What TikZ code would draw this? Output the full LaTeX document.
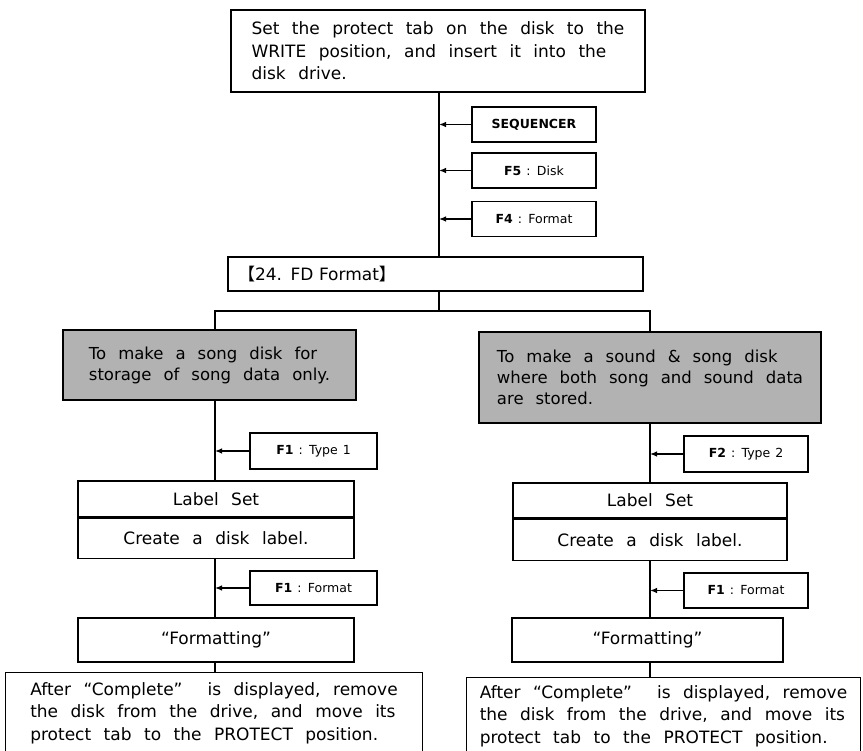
\documentclass[tikz,border=0pt]{standalone}
\usepackage{fontspec}
\setmainfont{DejaVu Sans}
\newfontfamily\cjkfont{Noto Sans CJK JP}
\usepackage{tikz}
\usetikzlibrary{arrows.meta, positioning, calc}
\definecolor{shadegray}{RGB}{178, 178, 178}

\newcommand{\flowtext}{\fontsize{17}{22.5}\selectfont\spaceskip=12.5pt\relax}
\newcommand{\choicetext}{\fontsize{16.5}{21}\selectfont\spaceskip=12pt\relax}
\newcommand{\keytext}{\fontsize{12.5}{15}\selectfont\spaceskip=5pt\relax}

\tikzset{
  textbox/.style={draw, line width=1.2pt, font=\flowtext, inner xsep=10pt, inner ysep=0pt},
  keybox/.style={draw, line width=1.4pt, minimum width=124pt, minimum height=35pt, font=\keytext, inner sep=0pt},
  choicebox/.style={draw, line width=2.6pt, fill=shadegray, font=\choicetext, align=left, inner sep=0pt},
  link/.style={line width=1.2pt},
  keyarrow/.style={line width=1.2pt, -{Latex[length=7pt, width=5.5pt]}}
}

\begin{document}
\begin{tikzpicture}[x=1pt, y=-1pt]
  \useasboundingbox (0,0) rectangle (863,751);

  \coordinate (spine) at (439,0);
  \coordinate (colA) at (215,0);
  \coordinate (colB) at (650,0);
  \coordinate (fork) at (0,311);

  \node[textbox, align=left, minimum width=414pt, minimum height=82pt] (insert) at (438,51)
    {Set the protect tab on the disk to the\\ WRITE position, and insert it into the\\ disk drive.};

  \node[keybox] (sequencer) at (534,124.5) {\textbf{SEQUENCER}};
  \node[keybox] (disk) at (534,170.5) {\textbf{F5} : Disk};
  \node[keybox] (format) at (534,219) {\textbf{F4} : Format};

  \node[textbox, text width=395pt, align=left, minimum height=34pt] (fdformat) at (435.5,274)
    {{\cjkfont 【}24. FD Format{\cjkfont 】}};

  % song disk
  \node[choicebox, minimum width=293pt, minimum height=70pt] (songonly) at (209.5,365)
    {To make a song disk for\\ storage of song data only.};
  \node[keybox, minimum width=127pt, minimum height=36pt] (typeone) at (313.5,451) {\textbf{F1} : Type 1};
  \node[textbox, minimum width=276pt, minimum height=36pt] (labelA) at (216,499) {Label Set};
  \node[textbox, minimum width=276pt, minimum height=40pt, below=0pt of labelA] (createA) {Create a disk label.};
  \node[keybox, minimum width=127pt, minimum height=34pt] (startA) at (313.5,588) {\textbf{F1} : Format};
  \node[textbox, minimum width=276pt, minimum height=44pt] (fmtA) at (216,640) {“Formatting”};
  \node[textbox, draw=none, align=left, minimum width=416pt, minimum height=80pt] (doneA) at (214,713)
    {After “Complete”\ \ is displayed, remove\\ the disk from the drive, and move its\\ protect tab to the PROTECT position.};

  % sound & song disk
  \node[choicebox, minimum width=342pt, minimum height=91pt] (bothdata) at (650,377.5)
    {To make a sound \& song disk\\ where both song and sound data\\ are stored.};
  \node[keybox, minimum height=36pt] (typetwo) at (746,454) {\textbf{F2} : Type 2};
  \node[textbox, minimum width=274pt, minimum height=35pt] (labelB) at (650,500.5) {Label Set};
  \node[textbox, minimum width=274pt, minimum height=41pt, below=0pt of labelB] (createB) {Create a disk label.};
  \node[keybox] (startB) at (746,590.5) {\textbf{F1} : Format};
  \node[textbox, minimum width=271pt, minimum height=44pt] (fmtB) at (647.5,640) {“Formatting”};
  \node[textbox, draw=none, align=left, minimum width=393pt, minimum height=76pt] (doneB) at (663.5,716)
    {After “Complete”\ \ is displayed, remove\\ the disk from the drive, and move its\\ protect tab to the PROTECT position.};

  \draw[link] (doneA.south west) |- (doneA.north east) -- (doneA.south east);
  \draw[link] (doneB.south west) |- (doneB.north east) -- (doneB.south east);

  \draw[link] (insert.south -| spine) -- (fdformat.north -| spine);
  \draw[keyarrow] (sequencer.west) -- (sequencer.west -| spine);
  \draw[keyarrow] (disk.west) -- (disk.west -| spine);
  \draw[keyarrow] (format.west) -- (format.west -| spine);

  \draw[link] (fdformat.south -| spine) -- (fork -| spine);
  \draw[link] (songonly.north -| colA) |- (fork -| spine) -| (bothdata.north -| colB);

  \draw[link] (songonly.south -| colA) -- (labelA.north -| colA);
  \draw[keyarrow] (typeone.west) -- (typeone.west -| colA);
  \draw[link] (createA.south -| colA) -- (fmtA.north -| colA);
  \draw[keyarrow] (startA.west) -- (startA.west -| colA);
  \draw[link] (fmtA.south -| colA) -- (doneA.north -| colA);

  \draw[link] (bothdata.south -| colB) -- (labelB.north -| colB);
  \draw[keyarrow] (typetwo.west) -- (typetwo.west -| colB);
  \draw[link] (createB.south -| colB) -- (fmtB.north -| colB);
  \draw[keyarrow] (startB.west) -- (startB.west -| colB);
  \draw[link] (fmtB.south -| colB) -- (doneB.north -| colB);
\end{tikzpicture}
\end{document}
